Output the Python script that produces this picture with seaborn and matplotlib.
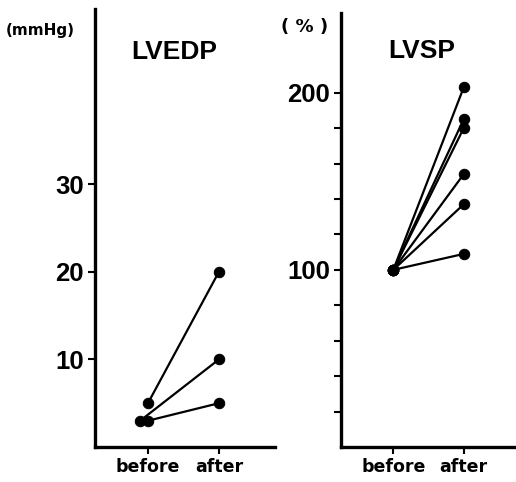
import pandas as pd
import seaborn as sns
import matplotlib.pyplot as plt

# === Data ===
phases = ["before", "after"]

# LVEDP (mmHg), one entry per subject
lvedp_before = [5, 3, 3]
lvedp_after = [20, 10, 5]

# LVSP (% of control)
lvsp_before = [100, 100, 100, 100, 100, 100]
lvsp_after = [203, 185, 180, 154, 137, 109]

lvedp_ticks = [10, 20, 30]
lvsp_ticks = [100, 200]
lvsp_minor = [20, 40, 60, 80, 120, 140, 160, 180]

sns.set_style("ticks")
plt.rcParams["font.family"] = ["DejaVu Sans"]
plt.rcParams["text.color"] = "black"
plt.rcParams["xtick.color"] = "black"
plt.rcParams["ytick.color"] = "black"
plt.rcParams["axes.edgecolor"] = "black"

# small horizontal shift so the two overlapping "before" dots are both visible
lvedp_shift = [0.0, -0.11, 0.0]
xpos = {"before": 0, "after": 1}


def long_table(before, after, shift=None):
    rows = []
    for i, (b, a) in enumerate(zip(before, after)):
        dx = shift[i] if shift else 0.0
        rows.append({"subject": i, "x": xpos["before"] + dx, "value": b})
        rows.append({"subject": i, "x": xpos["after"], "value": a})
    return pd.DataFrame(rows)


df_left = long_table(lvedp_before, lvedp_after, lvedp_shift)
df_right = long_table(lvsp_before, lvsp_after)

fig = plt.figure(figsize=(5.16, 4.82), dpi=100)
ax1 = fig.add_axes([95 / 516, 35 / 482, 180 / 516, 438 / 482])
ax2 = fig.add_axes([341 / 516, 35 / 482, 176 / 516, 434 / 482])

num_font = dict(family="Liberation Sans", fontweight="bold", fontsize=18.5)

for ax, df in [(ax1, df_left), (ax2, df_right)]:
    sns.lineplot(data=df, x="x", y="value", units="subject", estimator=None,
                 color="black", linewidth=1.6, marker="o", markersize=7.5,
                 markeredgecolor="black", ax=ax, legend=False)
    ax.set_xlabel("")
    ax.set_ylabel("")
    ax.set_xticks([xpos[p] for p in phases])
    ax.set_xticklabels(phases, fontsize=12.5, fontweight="bold")
    for s in ["top", "right"]:
        ax.spines[s].set_visible(False)
    for s in ["left", "bottom"]:
        ax.spines[s].set_linewidth(2.4)
    ax.tick_params(axis="both", which="both", length=5, width=1.5, pad=3)

ax1.set_xlim(-0.746, 1.79)
ax1.set_ylim(0, 50)
ax1.set_yticks(lvedp_ticks)
ax1.set_yticklabels([str(t) for t in lvedp_ticks], **num_font)

ax2.set_xlim(-0.743, 1.757)
ax2.set_ylim(0, 245)
ax2.set_yticks(lvsp_ticks)
ax2.set_yticklabels([str(t) for t in lvsp_ticks], **num_font)
ax2.set_yticks(lvsp_minor, minor=True)

# units and panel titles
fig.text(40 / 516, 1 - 31 / 482, "(mmHg)", ha="center", va="center",
         fontsize=11, fontweight="bold")
fig.text(174 / 516, 1 - 52 / 482, "LVEDP", ha="center", va="center",
         family="Liberation Sans", fontweight="bold", fontsize=19)
fig.text(305 / 516, 1 - 27 / 482, "( % )", ha="center", va="center",
         fontsize=13, fontweight="bold")
fig.text(422 / 516, 1 - 51 / 482, "LVSP", ha="center", va="center",
         family="Liberation Sans", fontweight="bold", fontsize=19)

fig.savefig("out.png", dpi=100)
